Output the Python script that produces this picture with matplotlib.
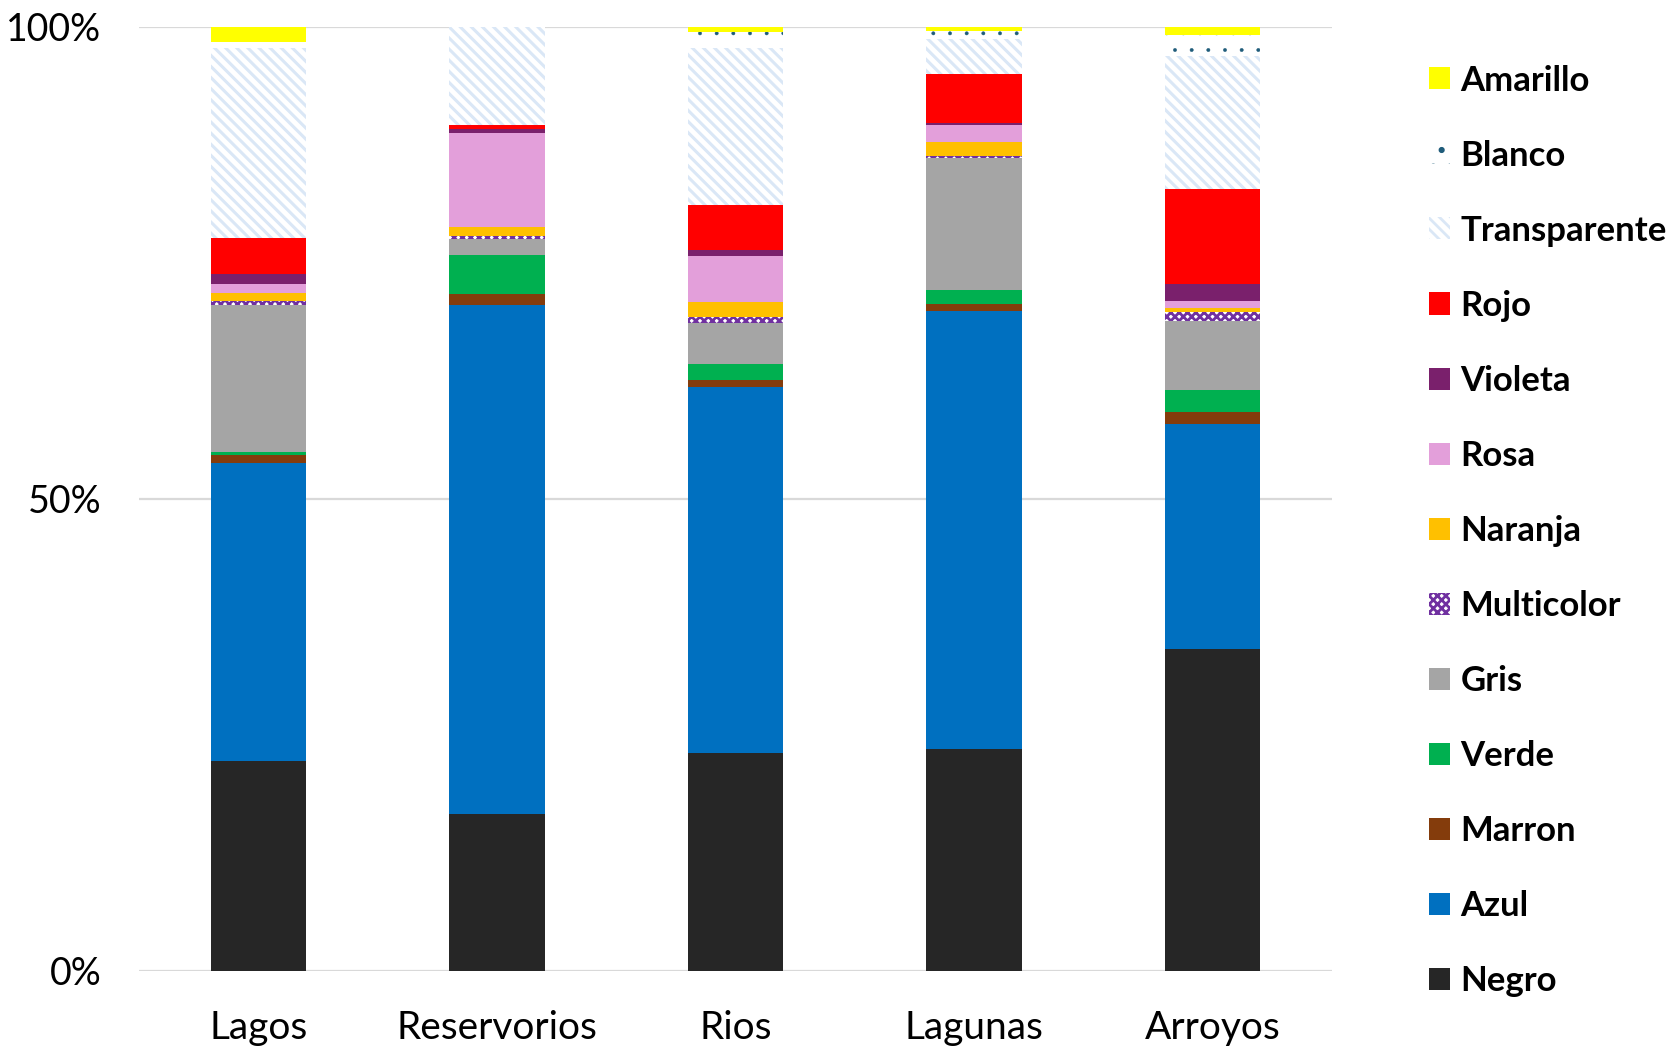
import matplotlib
matplotlib.use("Agg")
import matplotlib.pyplot as plt
import numpy as np
from matplotlib.patches import Patch

plt.rcParams['font.family'] = ['Lato', 'DejaVu Sans']
plt.rcParams['hatch.linewidth'] = 2.0

# Sitios muestreados
sitios = ['Lagos', 'Reservorios', 'Rios', 'Lagunas', 'Arroyos']

# Porcentaje de cada color por sitio (de abajo hacia arriba)
negro        = [22.2, 16.6, 23.1, 23.6, 34.1]
azul         = [31.6, 53.9, 38.8, 46.5, 23.8]
marron       = [0.9, 1.2, 0.7, 0.7, 1.3]
verde        = [0.3, 4.1, 1.7, 1.5, 2.3]
gris         = [15.5, 1.7, 4.3, 14.0, 7.3]
multicolor   = [0.5, 0.4, 0.7, 0.2, 1.0]
naranja      = [0.8, 0.9, 1.6, 1.5, 0.4]
rosa         = [1.0, 10.0, 4.8, 1.8, 0.8]
violeta      = [1.0, 0.4, 0.7, 0.2, 1.8]
rojo         = [3.8, 0.4, 4.7, 5.2, 10.0]
transparente = [20.2, 10.4, 16.7, 3.7, 14.1]
blanco       = [0.6, 0.0, 1.7, 0.9, 2.3]
amarillo     = [1.6, 0.0, 0.5, 0.4, 0.8]

# nombre, valores, estilo, grosor del rayado
series = [
    ('Negro', negro, dict(facecolor='#262626'), 2.0),
    ('Azul', azul, dict(facecolor='#0070C0'), 2.0),
    ('Marron', marron, dict(facecolor='#843C0C'), 2.0),
    ('Verde', verde, dict(facecolor='#00B050'), 2.0),
    ('Gris', gris, dict(facecolor='#A5A5A5'), 2.0),
    ('Multicolor', multicolor, dict(facecolor='white', edgecolor='#7030A0', hatch='xxxx'), 2.0),
    ('Naranja', naranja, dict(facecolor='#FFC000'), 2.0),
    ('Rosa', rosa, dict(facecolor='#E39FDA'), 2.0),
    ('Violeta', violeta, dict(facecolor='#7A206C'), 2.0),
    ('Rojo', rojo, dict(facecolor='#FF0000'), 2.0),
    ('Transparente', transparente, dict(facecolor='white', edgecolor='#DAE7F6', hatch='\\\\\\'), 2.2),
    ('Blanco', blanco, dict(facecolor='white', edgecolor='#1F5C7A', hatch='.'), 0.3),
    ('Amarillo', amarillo, dict(facecolor='#FFFF00'), 2.0),
]

fig = plt.figure(figsize=(16.71, 10.49), dpi=100)
ax = fig.add_axes([0.0832, 0.0744, 0.7138, 0.8999])

x = np.arange(len(sitios))
totales = np.sum([s[1] for s in series], axis=0)
base = np.zeros(len(sitios))
handles = []
for nombre, valores, estilo, hlw in series:
    pct = np.array(valores) / totales * 100
    with plt.rc_context({'hatch.linewidth': hlw}):
        ax.bar(x, pct, width=0.4, bottom=base, linewidth=0, zorder=3, **estilo)
        handles.append(Patch(linewidth=0, label=nombre, **estilo))
    base += pct

ax.set_xlim(-0.5, len(sitios) - 0.5)
ax.set_ylim(0, 100)
ax.set_yticks([0, 50, 100])
ax.set_yticklabels(['0%', '50%', '100%'])
ax.set_xticks(x)
ax.set_xticklabels(sitios)
ax.tick_params(axis='both', length=0, labelsize=27, colors='black')
ax.tick_params(axis='x', pad=28, labelsize=28)
ax.tick_params(axis='y', pad=27)
ax.grid(axis='y', color='#D9D9D9', linewidth=1.6, zorder=0)
for sp in ax.spines.values():
    sp.set_visible(False)

ax.legend(handles=handles[::-1], loc='upper left', bbox_to_anchor=(0.845, 0.955),
          bbox_transform=fig.transFigure, frameon=False, borderpad=0,
          handlelength=0.6, handleheight=0.6, handletextpad=0.3,
          labelspacing=1.24, prop=dict(family=['Lato', 'DejaVu Sans'], weight='bold', size=25))

fig.savefig('out.png', dpi=100)
